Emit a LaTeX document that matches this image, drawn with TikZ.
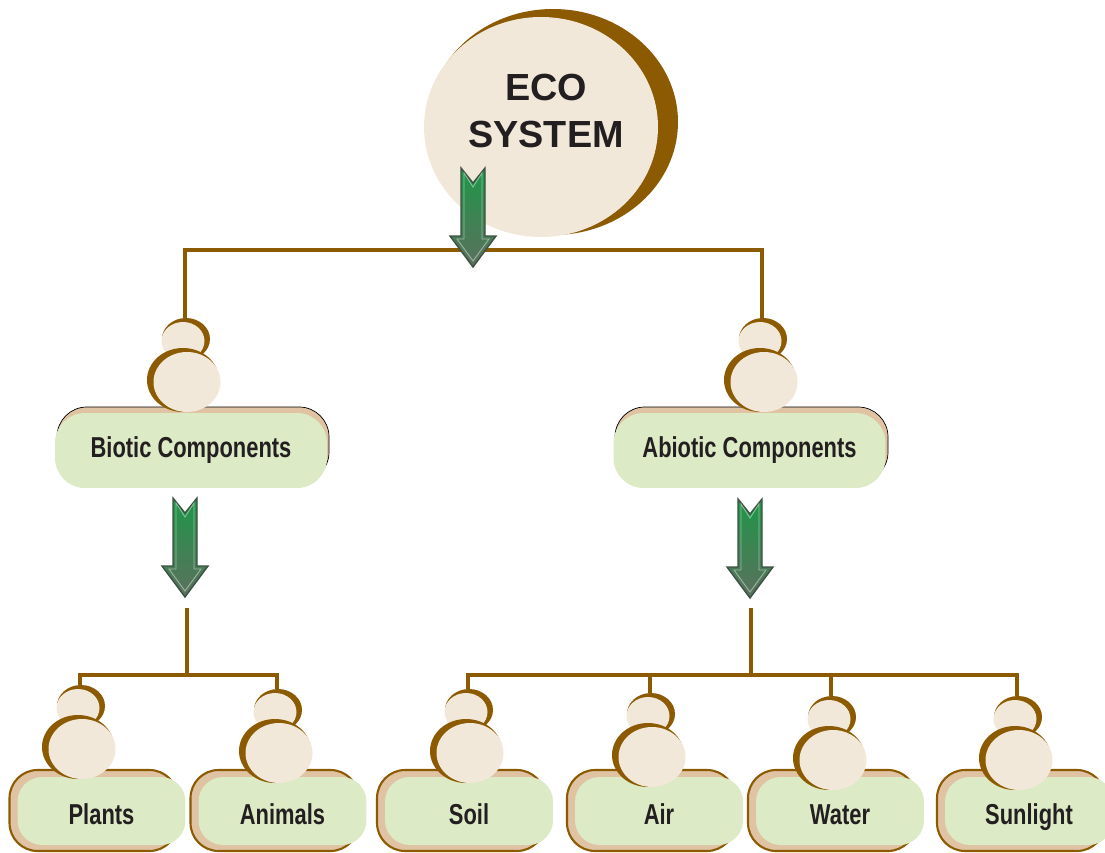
\documentclass[tikz,border=0pt]{standalone}
\usepackage{fontspec}
\setmainfont{Liberation Sans}
\newfontfamily\labelfont[FakeStretch=0.76]{Liberation Sans}
\usetikzlibrary{shapes,arrows,positioning}

\definecolor{ecobrown}{RGB}{140,90,0}
\definecolor{beadcream}{RGB}{242,232,218}
\definecolor{boxgreen}{RGB}{220,234,198}
\definecolor{shadowc}{RGB}{223,195,163}
\definecolor{inkc}{RGB}{35,31,32}
\definecolor{arrowtop}{RGB}{30,150,72}
\definecolor{arrowmid}{RGB}{80,128,90}
\definecolor{arrowbot}{RGB}{92,112,94}
\definecolor{arrowedge}{RGB}{60,82,66}

\tikzset{
  branch/.style={ecobrown, line width=2pt},
  midbox/.style={fill=boxgreen, rounded corners=17pt, minimum width=5.44cm,
    minimum height=1.5cm, inner sep=0pt, text=inkc,
    font=\labelfont\bfseries\fontsize{16.4}{19}\selectfont},
  leafbox/.style={midbox, rounded corners=14pt, minimum width=3.36cm, minimum height=1.36cm,
    text height=16pt, text depth=1pt},
  midshadow/.style={fill=shadowc, rounded corners=17pt},
  leafshadow/.style={fill=shadowc, draw=ecobrown, line width=1.2pt, rounded corners=16pt},
  bead/.pic={
    \fill[ecobrown] (1,21) ellipse [x radius=24, y radius=21];
    \fill[beadcream] (-2,23) ellipse [x radius=21.5, y radius=19];
    \fill[ecobrown] (-2,62) ellipse [x radius=36, y radius=32];
    \fill[beadcream] (2,64) ellipse [x radius=33.5, y radius=30];
  },
  greenarrow/.pic={
    \shade[top color=arrowtop, middle color=arrowmid, bottom color=arrowbot,
      draw=arrowedge, line width=0.8pt]
      (-12,0) -- (0,15) -- (12,0) -- (12,68) -- (23,68) -- (0,99) -- (-23,68) -- (-12,68) -- cycle;
    \draw[white, opacity=0.45, line width=0.5pt]
      (-9,5) -- (0,19) -- (9,5) -- (9,71) -- (16,71) -- (0,93) -- (-16,71) -- (-9,71) -- cycle;
  }
}

\begin{document}
\begin{tikzpicture}[x=0.02cm, y=-0.02cm]
  \useasboundingbox (0,0) rectangle (1105,852);

  % eco system bubble
  \fill[ecobrown] (553,122) ellipse [x radius=125, y radius=113];
  \fill[beadcream] (541,127) ellipse [x radius=117, y radius=110];
  \node[text=inkc, align=center, font=\bfseries\fontsize{21.5}{27.3}\selectfont] (eco) at (546,111) {ECO\\SYSTEM};

  % joints of the tree
  \coordinate (bioticBead) at (185,318);
  \coordinate (abioticBead) at (762,318);
  \coordinate (bioticTurn) at (185,250);
  \coordinate (abioticTurn) at (762,250);
  \coordinate (bioticFoot) at (187,608);
  \coordinate (bioticHub) at (187,675);
  \coordinate (abioticFoot) at (751,608);
  \coordinate (abioticHub) at (751,675);
  \coordinate (plantsBead) at (80,685);
  \coordinate (animalsBead) at (277,689);
  \coordinate (soilBead) at (468,689);
  \coordinate (airBead) at (650,693);
  \coordinate (waterBead) at (831,696);
  \coordinate (sunlightBead) at (1017,696);

  \draw[branch] (bioticBead) -- (bioticTurn) -- (abioticTurn) -- (abioticBead);
  \draw[branch] (bioticFoot) -- (bioticHub);
  \draw[branch] (plantsBead) -- (plantsBead |- bioticHub) -- (animalsBead |- bioticHub) -- (animalsBead);
  \draw[branch] (abioticFoot) -- (abioticHub);
  \draw[branch] (soilBead) -- (soilBead |- abioticHub) -- (sunlightBead |- abioticHub) -- (sunlightBead);
  \draw[branch] (airBead |- abioticHub) -- (airBead);
  \draw[branch] (waterBead |- abioticHub) -- (waterBead);

  % middle level
  \draw[midshadow] (57,407) rectangle (329,482);
  \draw[midshadow] (615,407) rectangle (888,482);
  \node[midbox] (biotic) at (191,450.5) {Biotic Components};
  \node[midbox] (abiotic) at (749.5,450.5) {Abiotic Components};

  % bottom level
  \foreach \cx in {101.5,282.5,469,659,840,1029}
    \draw[leafshadow] (\cx-92,770) rectangle (\cx+76,851);
  \node[leafbox] (plants) at (101.5,811) {Plants};
  \node[leafbox] (animals) at (282.5,811) {Animals};
  \node[leafbox] (soil) at (469,811) {Soil};
  \node[leafbox] (air) at (659,811) {Air};
  \node[leafbox] (water) at (840,811) {Water};
  \node[leafbox] (sunlight) at (1029,811) {Sunlight};

  % beads
  \foreach \b in {bioticBead,abioticBead,plantsBead,animalsBead,soilBead,airBead,waterBead,sunlightBead}
    \pic at (\b) {bead};

  % green arrows
  \pic at (473,168) {greenarrow};
  \pic at (185,498) {greenarrow};
  \pic at (750,499) {greenarrow};
\end{tikzpicture}
\end{document}
